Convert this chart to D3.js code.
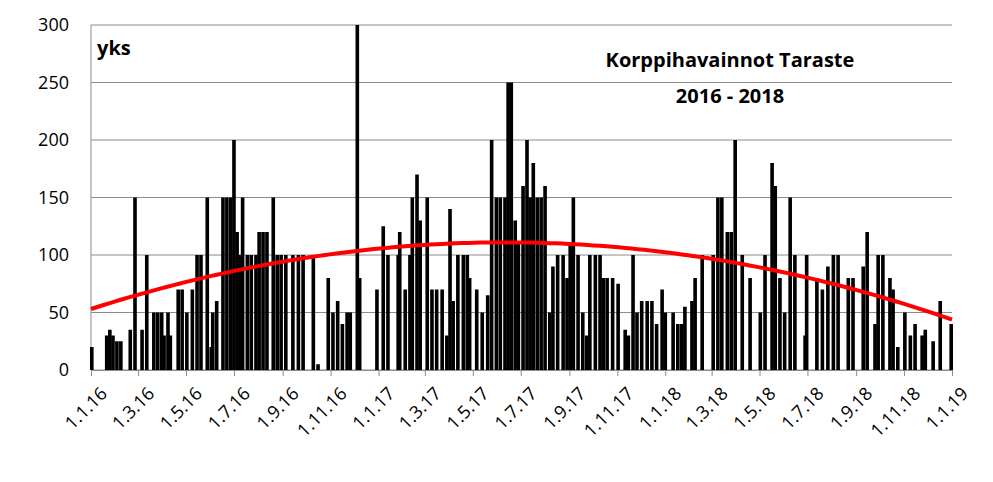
<!DOCTYPE html>
<html>
<head>
<meta charset="utf-8">
<script src="https://cdn.jsdelivr.net/npm/d3@7"></script>
<style>
  body { margin: 0; background: #fff; }
  text { font-family: "Open Sans", "Liberation Sans", sans-serif; }
</style>
</head>
<body>
<svg id="chart" width="993" height="482"></svg>
<script>
// days since 1.1.2016 and observed counts
const obsDays = [1,20,24,28,33,38,50,56,65,71,80,85,90,93,98,101,111,116,122,129,135,140,148,153,155,160,168,173,178,182,186,190,193,199,204,210,214,219,224,232,237,242,248,257,264,270,283,289,302,308,314,320,326,330,339,342,364,372,378,391,393,400,406,409,415,419,428,434,440,447,453,457,461,467,474,479,482,491,498,505,510,516,521,527,531,535,540,544,550,555,559,563,568,573,578,584,588,594,601,606,610,614,620,626,631,635,642,648,652,657,664,671,680,684,690,695,701,708,714,720,727,731,741,747,752,756,765,769,778,792,798,803,810,815,820,829,839,852,858,867,871,877,883,890,896,909,911,924,931,938,945,951,964,970,983,988,998,1002,1008,1017,1021,1027,1036,1043,1049,1058,1062,1072,1081,1095];
const obsCounts = [20,30,35,30,25,25,35,150,35,100,50,50,50,30,50,30,70,70,50,70,100,100,150,20,50,60,150,150,150,200,120,100,150,100,100,100,120,120,120,150,100,100,100,100,100,100,100,5,80,50,60,40,50,50,300,80,70,125,100,100,120,70,100,150,170,130,150,70,70,70,30,140,60,100,100,100,80,70,50,65,200,150,150,150,250,250,130,110,160,200,150,180,150,150,160,50,90,100,100,80,110,150,100,50,30,100,100,100,80,80,80,75,35,30,100,50,60,60,60,40,70,50,50,40,40,55,60,80,100,100,150,150,120,120,200,100,80,50,100,180,160,80,50,150,100,30,100,80,70,90,100,100,80,80,90,120,40,100,100,80,70,20,50,30,40,30,35,25,60,40];
const yTicks = [0, 50, 100, 150, 200, 250, 300];
const titleLines = ["Korppihavainnot Taraste", "2016 - 2018"];

const svg = d3.select("#chart");
const pLeft = 91, pRight = 952, pTop = 25, pBottom = 370;
const t0 = new Date(2016, 0, 1), t1 = new Date(2019, 0, 1);
const dayMs = 86400000;

const x = d3.scaleTime().domain([t0, t1]).range([pLeft, pRight]);
const y = d3.scaleLinear().domain([0, 300]).range([pBottom, pTop]);
const toDate = d => new Date(t0.getTime() + d * dayMs);

//grid lines
svg.append("g").selectAll("line").data(yTicks).join("line")
  .attr("x1", pLeft).attr("x2", pRight)
  .attr("y1", d => y(d)).attr("y2", d => y(d))
  .attr("stroke", "#8c8c8c").attr("stroke-width", 1);

svg.append("line").attr("x1", pLeft).attr("x2", pLeft)
  .attr("y1", pTop).attr("y2", pBottom).attr("stroke", "#8c8c8c");

//bars
const bw = x(toDate(4.6)) - x(t0);
svg.append("g").selectAll("rect").data(obsDays).join("rect")
  .attr("x", d => x(toDate(d)) - bw / 2)
  .attr("width", bw)
  .attr("y", (d, i) => y(obsCounts[i]))
  .attr("height", (d, i) => pBottom - y(obsCounts[i]))
  .attr("fill", "#000");

//quadratic trend (least squares, like excel)
let S = [[0,0,0],[0,0,0],[0,0,0]], B = [0,0,0];
obsDays.forEach((d, i) => {
  const t = d / 1000, p = [1, t, t * t];
  for (let r = 0; r < 3; r++) {
    B[r] += p[r] * obsCounts[i];
    for (let c = 0; c < 3; c++) S[r][c] += p[r] * p[c];
  }
});
for (let k = 0; k < 3; k++) {
  for (let r = k + 1; r < 3; r++) {
    const f = S[r][k] / S[k][k];
    for (let c = k; c < 3; c++) S[r][c] -= f * S[k][c];
    B[r] -= f * B[k];
  }
}
const coef = [0,0,0];
for (let r = 2; r >= 0; r--) {
  let s = B[r];
  for (let c = r + 1; c < 3; c++) s -= S[r][c] * coef[c];
  coef[r] = s / S[r][r];
}
const trendDays = d3.range(0, 1097, 8);
svg.append("path")
  .datum(trendDays)
  .attr("fill", "none").attr("stroke", "#ff0000").attr("stroke-width", 4)
  .attr("d", d3.line()
    .x(d => x(toDate(d)))
    .y(d => { const t = d / 1000; return y(coef[0] + coef[1] * t + coef[2] * t * t); }));

//axes
const yAxis = svg.append("g").attr("transform", `translate(${pLeft},0)`)
  .call(d3.axisLeft(y).tickValues(yTicks).tickSize(0).tickPadding(22));
yAxis.select(".domain").remove();
yAxis.selectAll("text").attr("font-size", 18).attr("fill", "#000");

const xTicks = d3.timeMonth.every(2).range(t0, d3.timeDay.offset(t1, 1));
const xAxis = svg.append("g").attr("transform", `translate(0,${pBottom})`)
  .call(d3.axisBottom(x).tickValues(xTicks).tickSize(6)
    .tickFormat(d => `1.${d.getMonth() + 1}.${String(d.getFullYear()).slice(2)}`));
xAxis.select(".domain").attr("stroke", "#8c8c8c");
xAxis.selectAll("line").attr("stroke", "#8c8c8c");
xAxis.selectAll("text")
  .attr("font-size", 18).attr("fill", "#000")
  .attr("text-anchor", "end")
  .attr("dy", "0.35em")
  .attr("transform", "translate(6,14) rotate(-45)");

svg.append("text").attr("x", 97).attr("y", 55)
  .attr("font-size", 20).attr("font-weight", "bold").text("yks");

svg.selectAll(".title").data(titleLines).join("text")
  .attr("class", "title")
  .attr("x", 730).attr("y", (d, i) => 67 + i * 36)
  .attr("text-anchor", "middle")
  .attr("font-size", 20).attr("font-weight", "bold")
  .text(d => d);
</script>
</body>
</html>
